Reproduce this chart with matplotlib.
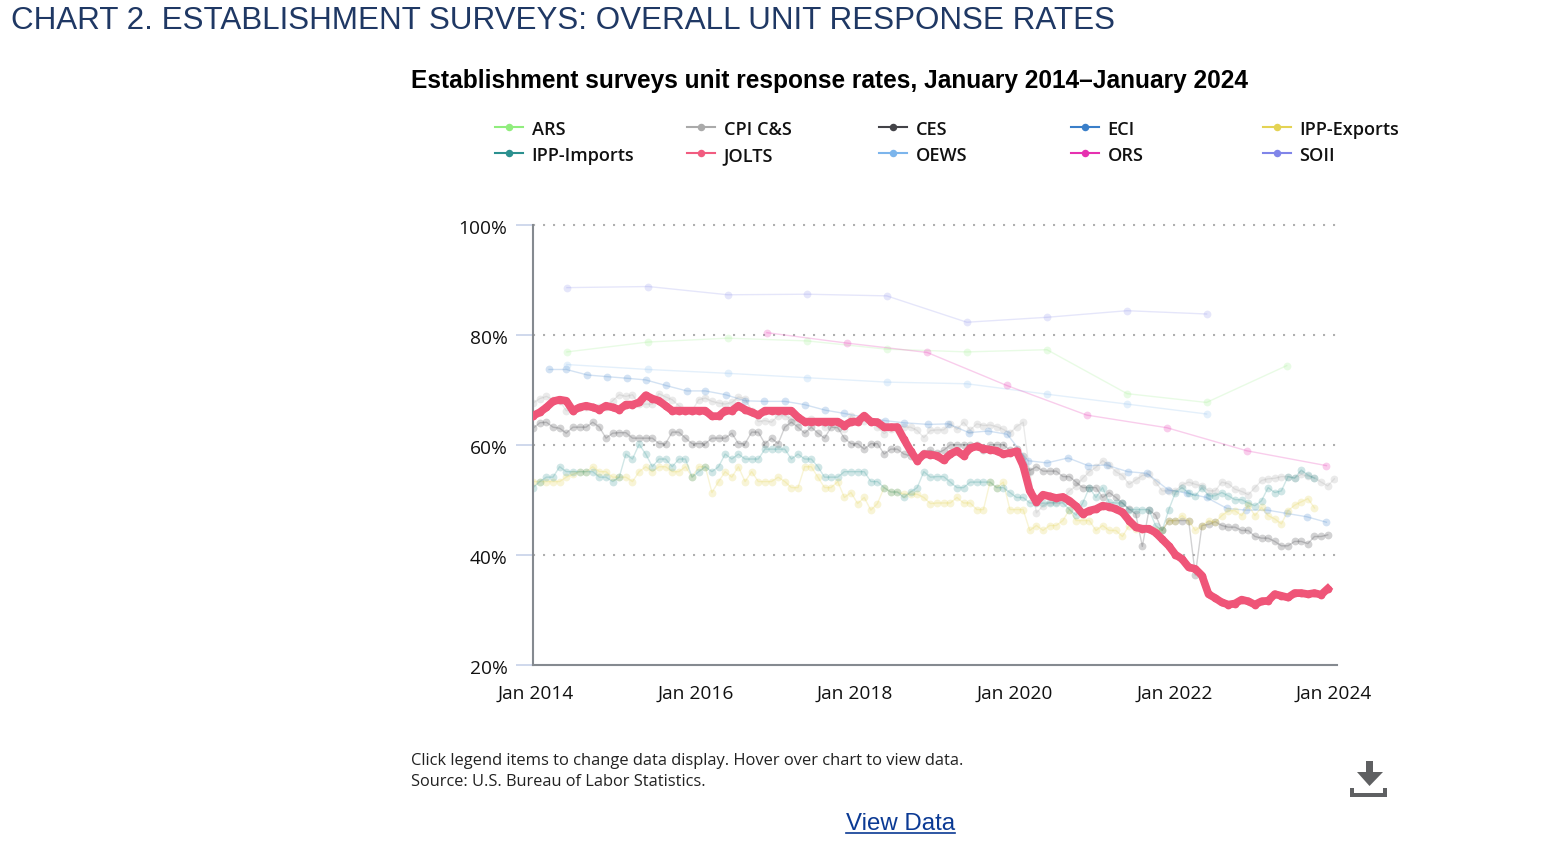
import matplotlib
matplotlib.use('Agg')

import matplotlib.pyplot as plt
import numpy as np
from matplotlib.lines import Line2D
from matplotlib.patches import Polygon
from matplotlib.transforms import ScaledTranslation

W, H = 1554, 862

# monthly series, index 0 = first month on the axis
jolts = [65.3, 65.9, 66.8, 67.9, 68.2, 68.0, 66.2, 66.8, 67.1, 66.8,
         66.4, 67.1, 66.8, 66.4, 67.3, 67.3, 67.7, 69.0, 68.4, 68.0,
         67.1, 66.2, 66.2, 66.2, 66.2, 66.2, 66.2, 65.2, 65.2, 66.2,
         66.2, 67.1, 66.4, 65.9, 65.4, 66.2, 66.2, 66.2, 66.2, 66.2,
         65.0, 64.2, 64.2, 64.2, 64.2, 64.2, 64.2, 63.5, 64.2, 64.2,
         65.3, 64.2, 64.1, 63.2, 63.2, 63.2, 61.0, 58.9, 57.1, 58.3,
         58.2, 58.0, 57.2, 58.3, 58.9, 58.0, 59.4, 59.7, 59.3, 59.1,
         58.9, 58.3, 58.5, 58.8, 56.2, 51.6, 49.6, 50.9, 50.6, 50.3,
         50.5, 49.8, 48.8, 47.4, 48.0, 48.3, 48.9, 48.7, 48.3, 47.7,
         46.2, 45.0, 44.7, 44.7, 44.0, 42.8, 41.6, 40.0, 39.2, 37.7,
         37.4, 36.2, 32.8, 32.1, 31.3, 30.9, 31.1, 31.8, 31.5, 30.9,
         31.5, 31.6, 32.8, 32.5, 32.2, 33.0, 33.0, 32.8, 33.0, 32.7,
         33.8]

ces = [63.0, 64.0, 64.1, 63.2, 63.0, 62.1, 63.2, 63.2, 63.2, 64.1,
       63.2, 61.2, 62.1, 62.2, 62.2, 61.2, 61.2, 61.2, 61.2, 60.2,
       60.2, 62.3, 62.3, 61.2, 60.2, 60.2, 60.2, 61.2, 61.2, 61.2,
       62.1, 60.2, 60.2, 62.3, 62.3, 60.2, 61.2, 60.2, 63.2, 64.1,
       63.2, 62.1, 63.2, 62.1, 61.2, 63.2, 63.1, 61.2, 60.2, 60.2,
       59.2, 60.2, 60.2, 58.3, 59.2, 59.2, 58.3, 58.0, 57.5, 58.5,
       59.0, 58.5, 59.0, 60.0, 60.0, 60.0, 60.0, 60.0, 59.0, 60.0,
       60.0, 60.0, 59.0, 59.2, 58.0,
       55.3, 56.0, 55.2, 55.2, 55.2, 54.2, 54.2, 53.2, 52.2, 52.2,
       52.2, 50.4, 51.3, 50.4, 49.4, 48.3, 47.4, 41.5, 48.1, 47.2,
       44.4, 46.2, 46.2, 46.2, 46.2, 36.3, 45.3, 45.5, 46.0, 45.3,
       45.0, 45.0, 44.4, 44.4, 43.3, 43.0, 43.0, 42.4, 41.6, 41.6,
       42.4, 42.4, 42.0, 43.3, 43.3, 43.6]

cpi = [67.6, 68.4, 68.8, 68.2, 68.0, 66.2, 66.2, 66.8, 66.8, 66.8,
       66.8, 66.8, 68.0, 69.1, 68.8, 69.1, 67.4, 67.4, 67.4, 69.3,
       68.7, 68.2, 67.1, 66.2, 66.2, 68.2, 68.5, 67.9, 67.6, 67.4,
       67.7, 68.7, 68.4, 66.2, 64.2, 64.4, 64.1, 65.3, 65.3, 64.7,
       64.1, 64.1, 64.7, 64.1, 63.2, 64.1, 64.1, 62.9, 65.3, 64.4,
       64.4, 64.1, 63.2, 62.0, 62.9, 63.5, 63.2, 63.2, 62.6, 61.3,
       62.6,
       62.7, 62.7, 63.8, 62.8, 64.1, 62.7, 63.8, 63.5, 63.6, 63.3,
       62.8, 62.1, 63.3, 64.1, 55.0, 47.6, 48.9, 49.5, 49.5, 50.1,
       51.6, 52.5, 53.9, 55.1, 55.9, 57.1, 56.3, 55.1, 54.4, 52.8,
       53.6, 54.4, 54.6, 53.2, 51.6, 51.6, 51.6, 52.7, 53.2, 52.8,
       52.5, 51.6, 51.6, 53.2, 52.9, 51.9, 51.5, 50.9, 52.2, 53.5,
       53.8, 53.9, 54.2, 54.2, 54.0, 54.6, 54.3, 54.0, 53.2, 52.5,
       53.8]

imports = [52.2, 53.3, 54.1, 54.1, 56.0, 55.1, 55.1, 55.1, 55.1, 55.1,
           54.1, 54.1, 53.3, 54.1, 58.3, 57.4, 60.1, 58.3, 56.0, 57.4,
           57.4, 56.0, 57.4, 57.4, 54.1, 55.1, 56.0, 55.1, 56.0, 58.3,
           57.4, 58.3, 57.4, 57.4, 57.4, 59.2, 59.2, 59.2, 59.2, 57.4,
           58.3, 57.4, 57.4, 56.0, 54.1, 54.1, 54.1, 55.1, 55.1, 55.1,
           55.1, 53.3, 53.3, 52.2, 51.4, 51.4, 50.4, 51.4, 52.2, 55.1,
           54.1,
           54.2, 54.2, 53.2, 52.2, 52.2, 53.2, 53.2, 53.2, 53.2, 52.2,
           52.2, 51.3, 50.4, 50.4, 49.4, 49.4, 49.4, 49.4, 49.4, 49.4,
           48.2, 47.2, 49.4, 52.2, 50.4, 52.2, 49.5, 49.4, 49.4, 48.2,
           48.2, 48.2, 48.2, 45.3, 44.4, 48.2, 51.3, 52.2, 51.2, 50.7,
           52.2, 50.7, 50.7, 51.3, 50.7, 50.0, 50.0, 49.4, 48.9, 49.8,
           52.2, 51.3, 51.6, 54.2, 53.9, 55.4, 54.5, 53.9]

exports = [53.3, 53.3, 53.3, 53.3, 53.3, 54.1, 54.6, 55.1, 55.1, 56.0,
           55.1, 55.1, 54.1, 54.1, 54.1, 53.3, 55.1, 56.0, 55.1, 56.0,
           56.0, 55.1, 55.1, 56.0, 54.1, 56.0, 56.0, 51.3, 53.3, 55.1,
           54.1, 56.0, 53.3, 55.1, 53.3, 53.3, 53.3, 54.1, 53.3, 52.2,
           52.2, 56.0, 56.0, 54.1, 52.2, 52.2, 53.3, 50.4, 51.3, 49.3,
           50.4, 48.1, 49.3, 52.2, 51.4, 51.4, 51.0, 51.0, 51.0, 50.4,
           49.3,
           49.4, 49.4, 49.4, 50.4, 49.4, 49.4, 48.2, 48.2, 53.2, 52.2,
           53.2, 48.2, 48.2, 48.2, 44.4, 45.3, 44.4, 45.3, 45.3, 46.2,
           48.2, 46.2, 46.2, 46.2, 44.4, 45.3, 44.4, 44.4, 43.3, 45.3,
           44.7, 44.7, 44.7, 44.4, 44.4, 46.2, 46.2, 47.1, 46.2, 44.4,
           45.3, 46.2, 45.9, 47.1, 48.0, 48.0, 47.1, 49.0, 47.1, 48.6,
           47.1, 46.5, 45.6, 48.0, 49.0, 49.6, 50.2, 48.5]

# quarterly
eci = [73.7, 73.7, 72.7, 72.4, 72.1, 71.8, 70.8, 69.8, 69.8, 69.1,
       68.0, 67.9, 67.9, 67.3, 66.3, 65.7, 65.0, 64.4, 64.0, 63.7,
       63.8, 62.2, 62.5, 61.9, 57.1, 56.7, 57.6, 56.2, 56.3, 55.1,
       54.8, 51.8, 51.2, 50.4, 48.4, 48.1, 48.1, 47.5, 46.9, 45.9]
eci_months = [2.4, 5.0, 8.2, 11.1, 14.2, 17.0, 20.0, 23.2, 26.0, 29.1,
              32.0, 34.8, 38.0, 41.0, 44.1, 47.0, 50.1, 53.1, 56.0, 59.7,
              62.7, 65.8, 68.7, 71.6, 74.7, 77.6, 80.8, 83.8, 86.6, 89.8,
              92.7, 95.9, 98.7, 101.7, 104.8, 107.7, 110.9, 113.8, 116.8, 119.8]

# annual
annual_months = [5.1, 17.4, 29.4, 41.4, 53.4, 65.5, 77.6, 89.7, 101.7, 113.8]
soii = [88.6, 88.8, 87.3, 87.4, 87.1, 82.3, 83.2, 84.4, 83.8]
ars = [76.9, 78.7, 79.4, 78.9, 77.4, 76.9, 77.3, 69.3, 67.7, 74.4]
oews = [74.6, 73.7, 73.0, 72.2, 71.4, 71.1, 69.2, 67.4, 65.6]
ors_months = [35.3, 47.4, 59.5, 71.5, 83.6, 95.7, 107.8, 119.8]
ors = [80.4, 78.5, 76.8, 70.8, 65.4, 63.1, 58.9, 56.2]

legend_names = ['ARS', 'CPI C&S', 'CES', 'ECI', 'IPP-Exports',
                'IPP-Imports', 'JOLTS', 'OEWS', 'ORS', 'SOII']
legend_colors = ['#90ed7d', '#aaaaaa', '#434348', '#3a7fc9', '#e4d354',
                 '#2b908f', '#f15c80', '#7cb5ec', '#e631b0', '#8085e9']
colors = dict(zip(legend_names, legend_colors))

y_ticks = [20, 40, 60, 80, 100]
x_tick_pos = [0.45, 24.6, 48.6, 72.8, 96.9, 120.9]
x_tick_labels = ['Jan 2014', 'Jan 2016', 'Jan 2018', 'Jan 2020', 'Jan 2022', 'Jan 2024']


def px(x, y):
    # pixel position from the top left corner -> figure fraction
    return x / W, 1 - y / H


fig = plt.figure(figsize=(W / 100, H / 100), dpi=100)
ax = fig.add_axes([532.5 / W, 1 - 665.5 / H, (1337 - 532.5) / W, (665.5 - 226) / H])
ax.set_xlim(-0.1, 121.4)
ax.set_ylim(20, 100)


def faded(x, y, name, alpha=0.2):
    ax.plot(x, y, color=colors[name], lw=1.0, marker='o', ms=5.6, mew=0,
            alpha=alpha, zorder=2)


faded(np.arange(len(cpi)), cpi, 'CPI C&S', 0.24)
faded(np.arange(len(ces)), ces, 'CES', 0.24)
faded(eci_months, eci, 'ECI', 0.22)
faded(np.arange(len(exports)), exports, 'IPP-Exports', 0.24)
faded(np.arange(len(imports)), imports, 'IPP-Imports', 0.22)
faded(annual_months[:len(oews)], oews, 'OEWS', 0.2)
faded(annual_months, ars, 'ARS', 0.2)
faded(annual_months[:len(soii)], soii, 'SOII', 0.2)
faded(ors_months, ors, 'ORS', 0.24)
ax.plot(np.arange(len(jolts)), jolts, color='#ef5578', lw=5.6, marker='o', ms=5.6,
        mew=0, solid_joinstyle='round', zorder=4)

ax.set_yticks(y_ticks)
ax.set_yticklabels([f'{v}%' for v in y_ticks])
ax.set_xticks(x_tick_pos)
ax.set_xticklabels(x_tick_labels)
ax.tick_params(axis='y', length=12.5, width=1.3, color='#ccd6eb', pad=5.5,
               labelsize=13.8, labelcolor='#111111')
ax.tick_params(axis='x', length=0, pad=14, labelsize=13.8, labelcolor='#111111')
for lab in ax.get_xticklabels() + ax.get_yticklabels():
    lab.set_family('Open Sans')
# y labels sit a touch under their gridline
for lab in ax.get_yticklabels():
    lab.set_transform(lab.get_transform() + ScaledTranslation(0, -1.5 / 100, fig.dpi_scale_trans))

for v in y_ticks[1:]:
    ax.axhline(v, color='#b0b0b0', lw=1.5, dashes=(1, 3.8), zorder=1, clip_on=False)

for side in ['top', 'right']:
    ax.spines[side].set_visible(False)
for side in ['left', 'bottom']:
    ax.spines[side].set_color('#858a90')
    ax.spines[side].set_linewidth(1.5)

# header texts
fig.text(*px(11, 29), 'CHART 2. ESTABLISHMENT SURVEYS: OVERALL UNIT RESPONSE RATES',
         family='Liberation Sans', fontsize=22.63, color='#1f3864')
fig.text(*px(411, 88), 'Establishment surveys unit response rates, January 2014\u2013January 2024',
         family='Liberation Sans', fontweight='bold', fontsize=17.66, color='#000000')

# legend, two rows of five
for i, (name, col) in enumerate(zip(legend_names, legend_colors)):
    lx = 495 + 192 * (i % 5)
    ly = 128 + 26 * (i // 5)
    x0, y0 = px(lx, ly)
    x1, _ = px(lx + 28, ly)
    fig.add_artist(Line2D([x0, x1], [y0, y0], color=col, lw=1.5))
    fig.add_artist(Line2D([(x0 + x1) / 2], [y0], color=col, marker='o', ms=5.4, mew=0))
    fig.text(*px(lx + 36.5, ly + 2), name, family='Open Sans', fontweight='semibold',
             fontsize=13.1, color='#111111', va='center')

# footer
fig.text(*px(411, 765), 'Click legend items to change data display. Hover over chart to view data.',
         family='Open Sans', fontsize=11.93, color='#222222')
fig.text(*px(411, 786), 'Source: U.S. Bureau of Labor Statistics.',
         family='Open Sans', fontsize=11.78, color='#222222')

fig.text(*px(846, 830), 'View Data', family='Liberation Sans', fontsize=17.3, color='#0b3a94')
x0, y0 = px(846, 834)
x1, _ = px(955, 834)
fig.add_artist(Line2D([x0, x1], [y0, y0], color='#0b3a94', lw=1.2))

# download icon
icon = '#5f6062'
arrow = [(1366, 762), (1373, 762), (1373, 773), (1383, 773), (1369.5, 787), (1357, 773), (1366, 773)]
fig.add_artist(Polygon([px(*p) for p in arrow], closed=True, fc=icon, lw=0, transform=fig.transFigure))
tray = [(1350, 789), (1354, 789), (1354, 794.3), (1383, 794.3), (1383, 789), (1387, 789), (1387, 798), (1350, 798)]
fig.add_artist(Polygon([px(*p) for p in tray], closed=True, fc=icon, lw=0, transform=fig.transFigure))

fig.savefig('out.png', dpi=100)
